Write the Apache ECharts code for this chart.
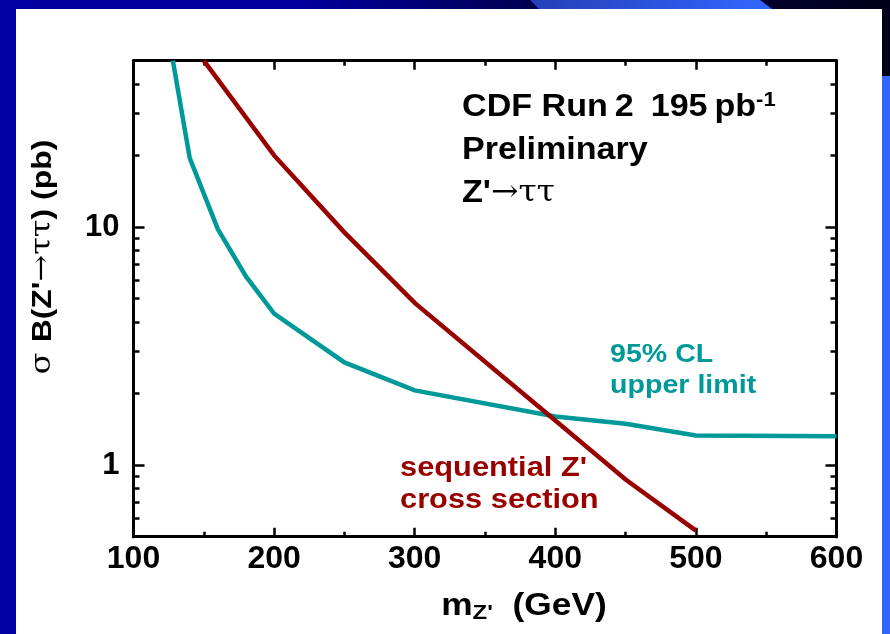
<!DOCTYPE html>
<html>
<head>
<meta charset="utf-8">
<title>Z' to tau tau cross section limit</title>
<script src="https://cdn.jsdelivr.net/npm/echarts@6/dist/echarts.min.js"></script>
<style>
  html, body { margin: 0; padding: 0; background: #0000a0; }
  #chart { width: 890px; height: 634px; }
</style>
</head>
<body>
<div id="chart"></div>
<script>
// Z' mass points (GeV) and 95% CL upper limit on sigma*B (pb)
var limitMass = [128, 140, 160, 180, 200, 250, 300, 400, 450, 500, 600];
var limitXsec = [50, 19.5, 9.8, 6.2, 4.33, 2.7, 2.06, 1.6, 1.49, 1.33, 1.32];

// Sequential Z' theoretical cross section (pb)
var seqMass = [150, 200, 250, 300, 400, 450, 500];
var seqXsec = [50, 20, 9.5, 4.8, 1.54, 0.87, 0.53];

// Axis ticks
var yMajorTicks = [1, 10];
var yMinorTicks = [0.5, 0.6, 0.7, 0.8, 0.9, 2, 3, 4, 5, 6, 7, 8, 9, 20, 30, 40, 50];

var FONT = '"Liberation Sans", Arial, Helvetica, sans-serif';
var SYM = '"DejaVu Serif", "Liberation Serif", serif';
var TEAL = '#009999';
var RED = '#990000';

function pairs(xs, ys) {
  return xs.map(function (x, i) { return [x, ys[i]]; });
}

var chart = echarts.init(document.getElementById('chart'), null, { renderer: 'canvas' });

var axisLine = { show: true, onZero: false, lineStyle: { color: '#000', width: 3 } };

function yAxisDef(position, ticks, len, withLabel) {
  return {
    type: 'log',
    logBase: 10,
    min: 0.5,
    max: 50,
    position: position,
    axisLine: axisLine,
    splitLine: { show: false },
    axisTick: {
      show: true, inside: true, length: len, customValues: ticks,
      lineStyle: { color: '#000', width: 2.5 }
    },
    axisLabel: withLabel ? {
      show: true, customValues: ticks, margin: 14,
      color: '#000', fontFamily: FONT, fontWeight: 'bold', fontSize: 31
    } : { show: false }
  };
}

function xAxisDef(position, withLabel) {
  return {
    type: 'value',
    min: 100,
    max: 600,
    interval: 100,
    position: position,
    axisLine: axisLine,
    splitLine: { show: false },
    axisTick: { show: true, inside: true, length: 9, lineStyle: { color: '#000', width: 2.5 } },
    minorTick: { show: true, splitNumber: 2, length: 5, lineStyle: { color: '#000', width: 2.5 } },
    minorSplitLine: { show: false },
    axisLabel: withLabel ? {
      show: true, margin: 6, color: '#000',
      fontFamily: FONT, fontWeight: 'bold', fontSize: 32
    } : { show: false }
  };
}

var option = {
  backgroundColor: '#0000a0',
  animation: false,
  grid: { left: 133.5, right: 53.5, top: 60.7, bottom: 97.3, containLabel: false },
  xAxis: [xAxisDef('bottom', true), xAxisDef('top', false)],
  yAxis: [
    yAxisDef('left', yMajorTicks, 11, true),
    yAxisDef('left', yMinorTicks, 6, false),
    yAxisDef('right', yMajorTicks, 11, false),
    yAxisDef('right', yMinorTicks, 6, false)
  ],
  graphic: [
    // slide frame
    { type: 'rect', z: -10, silent: true, shape: { x: 0, y: 0, width: 890, height: 9 },
      style: { fill: new echarts.graphic.LinearGradient(0, 0, 1, 0, [
        { offset: 0, color: '#0000a0' }, { offset: 0.35, color: '#00009a' },
        { offset: 0.6, color: '#000050' }, { offset: 1, color: '#000018' }]) } },
    { type: 'polygon', z: -9, silent: true,
      shape: { points: [[530, 0], [760, 0], [772, 9], [539, 9]] },
      style: { fill: new echarts.graphic.LinearGradient(0, 0, 1, 0, [
        { offset: 0, color: '#2440b8' }, { offset: 1, color: '#3366ff' }]) } },
    { type: 'rect', z: -9, silent: true, shape: { x: 882, y: 0, width: 8, height: 634 },
      style: { fill: '#000018' } },
    { type: 'rect', z: -9, silent: true, shape: { x: 882, y: 76, width: 8, height: 558 },
      style: { fill: '#3366ff' } },
    { type: 'rect', z: -8, silent: true, shape: { x: 16, y: 9, width: 866, height: 625 },
      style: { fill: '#ffffff' } },

    // y-axis title
    { type: 'text', z: 10, x: 43, y: 257, rotation: Math.PI / 2, scaleX: 1.14,
      style: {
        text: '{n|σ }{b|B(Z\'}{n|→ττ}{b|) (pb)}',
        align: 'center', verticalAlign: 'middle',
        rich: {
          n: { fontFamily: SYM, fontSize: 28, fill: '#000', fontWeight: 'normal' },
          b: { fontFamily: FONT, fontSize: 28, fill: '#000', fontWeight: 'bold' }
        }
      } },
    // x-axis title
    { type: 'text', z: 10, x: 524, y: 606, scaleX: 1.14,
      style: {
        text: '{b|m}{s|Z\'}{b|  (GeV)}',
        align: 'center', verticalAlign: 'middle',
        rich: {
          b: { fontFamily: FONT, fontSize: 31, fill: '#000', fontWeight: 'bold' },
          s: { fontFamily: FONT, fontSize: 21, fill: '#000', fontWeight: 'bold', padding: [14, 0, 0, 0] }
        }
      } },
    // experiment label
    { type: 'text', z: 10, x: 462, y: 86, scaleX: 1.1,
      style: {
        text: '{b|CDF Run\u20092\u2002195\u2009pb}{sup|-1}\n{b|Preliminary}\n{b|Z\'}{n|→ττ}',
        align: 'left', verticalAlign: 'top', lineHeight: 43,
        rich: {
          b: { fontFamily: FONT, fontSize: 31, fill: '#000', fontWeight: 'bold', lineHeight: 43 },
          n: { fontFamily: SYM, fontSize: 30, fill: '#000', fontWeight: 'normal', lineHeight: 43 },
          sup: { fontFamily: FONT, fontSize: 20, fill: '#000', fontWeight: 'bold', padding: [0, 0, 14, 0], lineHeight: 43 }
        }
      } },
    // curve annotations
    { type: 'text', z: 10, x: 610, y: 339, scaleX: 1.1,
      style: {
        text: '95% CL\nupper limit', align: 'left', verticalAlign: 'top',
        fontFamily: FONT, fontSize: 26, fontWeight: 'bold', fill: TEAL, lineHeight: 31
      } },
    { type: 'text', z: 10, x: 400, y: 452, scaleX: 1.12,
      style: {
        text: 'sequential Z\'\ncross section', align: 'left', verticalAlign: 'top',
        fontFamily: FONT, fontSize: 27.5, fontWeight: 'bold', fill: RED, lineHeight: 32
      } }
  ],
  series: [
    {
      name: '95% CL upper limit', type: 'line', xAxisIndex: 0, yAxisIndex: 0,
      data: pairs(limitMass, limitXsec), showSymbol: false, symbol: 'none',
      clip: true, z: 3,
      lineStyle: { color: TEAL, width: 4.5, join: 'miter' }
    },
    {
      name: 'sequential Z\' cross section', type: 'line', xAxisIndex: 0, yAxisIndex: 0,
      data: pairs(seqMass, seqXsec), showSymbol: false, symbol: 'none',
      clip: true, z: 4,
      lineStyle: { color: RED, width: 4.5, join: 'miter' }
    }
  ]
};

chart.setOption(option);
</script>
</body>
</html>
